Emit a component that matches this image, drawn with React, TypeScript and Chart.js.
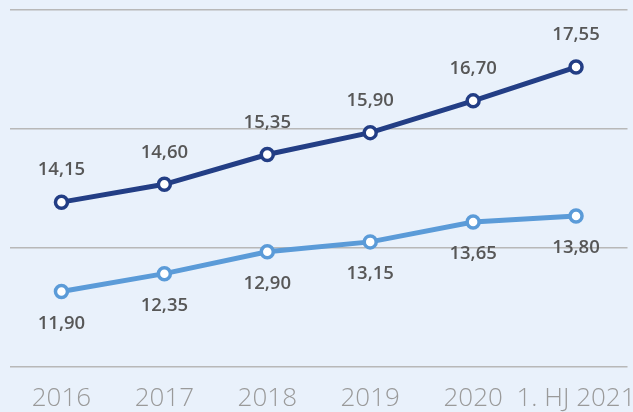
import React, { useEffect, useRef } from "react";
import { Chart, registerables } from "chart.js";

Chart.register(...registerables);

const categories = ["2016", "2017", "2018", "2019", "2020", "1. HJ 2021"];
const seriesDark = [14.15, 14.6, 15.35, 15.9, 16.7, 17.55];
const seriesLight = [11.9, 12.35, 12.9, 13.15, 13.65, 13.8];

const fmt = (v: number) => v.toFixed(2).replace(".", ",");

const labelPlugin = {
  id: "valueLabels",
  afterDatasetsDraw(chart: any) {
    const ctx = chart.ctx;
    ctx.save();
    ctx.font = "600 18.5px 'Open Sans'";
    ctx.fillStyle = "#575757";
    ctx.textAlign = "center";
    ctx.textBaseline = "middle";
    chart.data.datasets.forEach((ds: any, i: number) => {
      const meta = chart.getDatasetMeta(i);
      meta.data.forEach((pt: any, j: number) => {
        const off = i === 0 ? -32 : 32;
        ctx.fillText(fmt(ds.data[j]), pt.x, pt.y + off);
      });
    });
    ctx.restore();
  },
};

const areaPlugin = {
  id: "fixArea",
  afterLayout(chart: any) {
    const ca = chart.chartArea;
    const right = chart.width - 5.5;
    ca.right = right;
    ca.width = right - ca.left;
    const x = chart.scales.x;
    x.right = right;
    x.width = right - x.left;
    x.configure();
  },
};

export default function App() {
  const ref = useRef<HTMLCanvasElement>(null);
  useEffect(() => {
    document.body.style.margin = "0";
    document.body.style.background = "#e9f1fb";
    const chart = new Chart(ref.current!, {
      type: "line",
      data: {
        labels: categories,
        datasets: [
          {
            data: seriesDark,
            borderColor: "#233e85",
            borderWidth: 5,
            pointRadius: 6,
            pointBorderWidth: 3.5,
            pointBackgroundColor: "#ffffff",
            pointBorderColor: "#233e85",
          },
          {
            data: seriesLight,
            borderColor: "#5b9bd8",
            borderWidth: 5,
            pointRadius: 6,
            pointBorderWidth: 3.5,
            pointBackgroundColor: "#ffffff",
            pointBorderColor: "#5b9bd8",
          },
        ],
      },
      options: {
        animation: false,
        responsive: false,
        layout: { padding: { left: 10, right: 5.5, top: 7, bottom: 0 } },
        plugins: { legend: { display: false }, tooltip: { enabled: false } },
        scales: {
          x: {
            offset: true,
            grid: { display: false },
            border: { display: false },
            afterFit: (s: any) => {
              s.height = 45;
              s.paddingLeft = 0;
              s.paddingRight = 0;
            },
            ticks: {
              autoSkip: false,
              maxRotation: 0,
              padding: 8,
              color: "#9a9a9a",
              font: { family: "'Open Sans'", size: 26, weight: "300" },
            },
          },
          y: {
            min: 10,
            max: 19,
            afterFit: (s: any) => {
              s.width = 0;
            },
            ticks: { display: false, stepSize: 3 },
            grid: { color: "#b8b8b8", lineWidth: 1.5, drawTicks: false },
            border: { display: false },
          },
        },
      },
      plugins: [areaPlugin, labelPlugin],
    });
    return () => chart.destroy();
  }, []);
  return (
    <div style={{ width: 633, height: 412, background: "#e9f1fb" }}>
      <canvas ref={ref} width={633} height={412} />
    </div>
  );
}
